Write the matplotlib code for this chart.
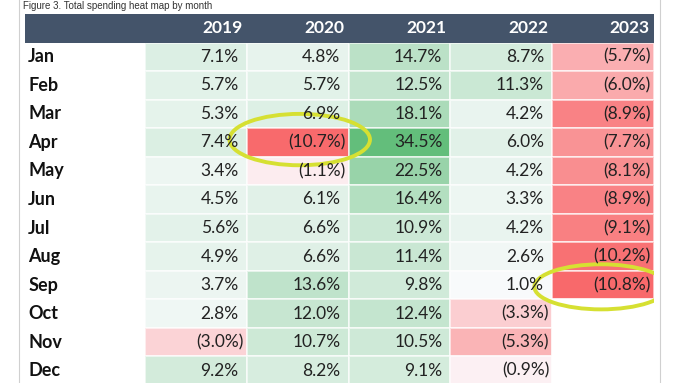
import numpy as np
import matplotlib.pyplot as plt
from matplotlib.colors import LinearSegmentedColormap, TwoSlopeNorm
from matplotlib.patches import Ellipse, Rectangle
from matplotlib.lines import Line2D

# dados da tabela (variação % de gasto total)
months = ['Jan', 'Feb', 'Mar', 'Apr', 'May', 'Jun',
          'Jul', 'Aug', 'Sep', 'Oct', 'Nov', 'Dec']
years = ['2019', '2020', '2021', '2022', '2023']
y2019 = [7.1, 5.7, 5.3, 7.4, 3.4, 4.5, 5.6, 4.9, 3.7, 2.8, -3.0, 9.2]
y2020 = [4.8, 5.7, 6.9, -10.7, -1.1, 6.1, 6.6, 6.6, 13.6, 12.0, 10.7, 8.2]
y2021 = [14.7, 12.5, 18.1, 34.5, 22.5, 16.4, 10.9, 11.4, 9.8, 12.4, 10.5, 9.1]
y2022 = [8.7, 11.3, 4.2, 6.0, 4.2, 3.3, 4.2, 2.6, 1.0, -3.3, -5.3, -0.9]
y2023 = [-5.7, -6.0, -8.9, -7.7, -8.1, -8.9, -9.1, -10.2, -10.8, None, None, None]

data = np.array([y2019, y2020, y2021, y2022, y2023], dtype=float).T
vals = np.ma.masked_invalid(data)

cmap = LinearSegmentedColormap.from_list(
    'excel', ['#F8696B', '#FCFCFF', '#63BE7B'])
norm = TwoSlopeNorm(vmin=np.nanmin(data), vcenter=0, vmax=np.nanmax(data))

fig = plt.figure(figsize=(6.8, 3.83), dpi=100)
W, H = 680, 383
ax = fig.add_axes([25 / W, (H - 385) / H, 629 / W, 371 / H])
lab_w = 120 / 101.8
ax.set_xlim(-0.5 - lab_w, len(years) - 0.5)
ax.set_ylim(len(months) - 0.5, -1.5)
ax.axis('off')

ax.pcolormesh(np.arange(len(years) + 1) - 0.5, np.arange(len(months) + 1) - 0.5,
              vals, cmap=cmap, norm=norm, edgecolor=(1, 1, 1, 0.6), linewidth=0.3)

# cabeçalho
ax.add_patch(Rectangle((-0.5 - lab_w, -1.5), lab_w + len(years), 1,
                       facecolor='#44546A', edgecolor='none'))
for j, yr in enumerate(years):
    ax.text(j + 0.46, -1.0, yr, ha='right', va='center', color='white',
            fontsize=12.5, fontweight='bold', family='Lato')

for i, m in enumerate(months):
    ax.text(-0.5 - lab_w + 0.03, i, m, ha='left', va='center', color='#111111',
            fontsize=13, fontweight='bold', family='Lato')
    for j in range(len(years)):
        v = data[i, j]
        if np.isnan(v):
            continue
        if v < 0:
            s, x = f'({abs(v):.1f}%)', j + 0.47
        else:
            s, x = f'{v:.1f}%', j + 0.42
        ax.text(x, i, s, ha='right', va='center', color='#222222',
                fontsize=12.5, family='Lato')

# destaques amarelos
hl = '#D6E032'
ax.add_patch(Ellipse((1.02, 2.9), 1.38, 1.8, fill=False, edgecolor=hl, linewidth=2.8))
ax.add_patch(Ellipse((3.98, 8.06), 1.31, 1.58, fill=False, edgecolor=hl, linewidth=2.8))

# bordas laterais
for xp in (19, 660):
    fig.add_artist(Line2D([xp / W, xp / W], [0, 1], color='#D0D0D0', linewidth=0.8))

fig.text(23 / W, 1 - 6 / H, 'Figure 3. Total spending heat map by month',
         ha='left', va='center', fontsize=7, color='#333333',
         family='Liberation Sans')

fig.savefig('out.png', dpi=100)
